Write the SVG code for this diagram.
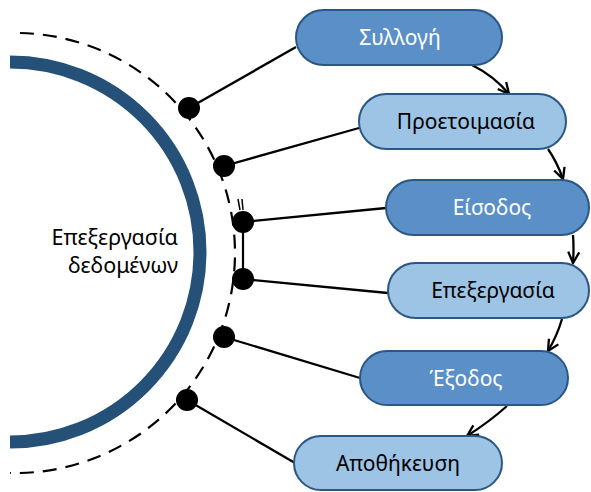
<svg xmlns="http://www.w3.org/2000/svg" width="591" height="492" viewBox="0 0 591 492">
<style>
.dark{fill:#5B8FC7;stroke:#2A5784;stroke-width:2}
.light{fill:#9DC3E5;stroke:#2A5784;stroke-width:2}
.tw{font-family:"Noto Sans","DejaVu Sans",sans-serif;font-size:21px;fill:#ffffff;text-anchor:middle}
.tb{font-family:"Noto Sans","DejaVu Sans",sans-serif;font-size:21px;fill:#000000;text-anchor:middle}
.ln{stroke:#000;stroke-width:2.3;fill:none}
.arr{stroke:#000;stroke-width:2.3;fill:none;marker-end:url(#ah)}
.dot{fill:#000}
</style>
<defs>
<marker id="ah" viewBox="0 0 14 14" refX="12.5" refY="7" markerWidth="14" markerHeight="14" markerUnits="userSpaceOnUse" orient="auto">
<path d="M1.5,1.5 L12.5,7 L1.5,12.5" fill="none" stroke="#000" stroke-width="2.3"/>
</marker>
</defs>
<g id="core">
<path d="M10,62 A190,190 0 0 1 10,442" fill="none" stroke="#255077" stroke-width="13"/>
<text x="178" y="245" font-family="Noto Sans, DejaVu Sans, sans-serif" font-size="21.5" text-anchor="end" fill="#000">Επεξεργασία</text>
<text x="178" y="273" font-family="Noto Sans, DejaVu Sans, sans-serif" font-size="21.5" text-anchor="end" fill="#000">δεδομένων</text>
</g>
<g id="ring">
<path d="M20,33 A220,220 0 0 1 10,473" fill="none" stroke="#000" stroke-width="2.2" stroke-dasharray="14 9"/>
<line x1="243" y1="226" x2="243" y2="276" stroke="#000" stroke-width="2.2"/>
<line x1="238" y1="199" x2="240" y2="210" stroke="#000" stroke-width="1.5"/>
<line x1="242" y1="199" x2="243" y2="210" stroke="#000" stroke-width="1.5"/>
</g>
<g id="connectors">
<line class="ln" x1="189" y1="108" x2="296" y2="47"/>
<line class="ln" x1="224" y1="166" x2="359" y2="128"/>
<line class="ln" x1="243" y1="222" x2="386" y2="208"/>
<line class="ln" x1="243" y1="279" x2="388" y2="293"/>
<line class="ln" x1="224" y1="337" x2="360" y2="378"/>
<line class="ln" x1="187" y1="400" x2="295" y2="463"/>
<path class="arr" d="M472,65 Q494,76 509,94"/>
<path class="arr" d="M548,149 Q557,162 563,179"/>
<path class="arr" d="M573,235 Q574,248 573,263"/>
<path class="arr" d="M562,319 Q557,336 548,351"/>
<path class="arr" d="M507,406 Q489,422 467,436"/>
</g>
<g id="dots">
<circle class="dot" cx="189" cy="108" r="11"/>
<circle class="dot" cx="224" cy="166" r="11"/>
<circle class="dot" cx="243" cy="222" r="11"/>
<circle class="dot" cx="243" cy="279" r="11"/>
<circle class="dot" cx="224" cy="337" r="11"/>
<circle class="dot" cx="187" cy="400" r="11"/>
</g>
<g id="n1"><rect class="dark" x="296" y="10" width="206" height="55" rx="27.5"/><text class="tw" x="400" y="45">Συλλογή</text></g>
<g id="n2"><rect class="light" x="359" y="94" width="207" height="55" rx="27.5"/><text class="tb" x="466" y="129">Προετοιμασία</text></g>
<g id="n3"><rect class="dark" x="386" y="180" width="203" height="55" rx="27.5"/><text class="tw" x="492" y="215">Είσοδος</text></g>
<g id="n4"><rect class="light" x="388" y="263" width="201" height="55" rx="27.5"/><text class="tb" x="493" y="298">Επεξεργασία</text></g>
<g id="n5"><rect class="dark" x="360" y="351" width="208" height="54" rx="27"/><text class="tw" x="466" y="386">Έξοδος</text></g>
<g id="n6"><rect class="light" x="294" y="436" width="208" height="54" rx="27"/><text class="tb" x="398" y="471">Αποθήκευση</text></g>
</svg>
